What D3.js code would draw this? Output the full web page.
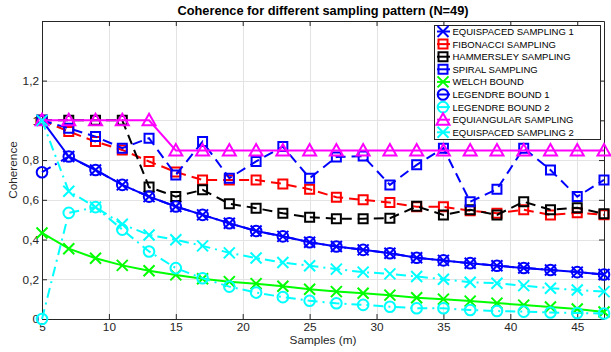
<!DOCTYPE html>
<html>
<head>
<meta charset="utf-8">
<script src="https://cdn.jsdelivr.net/npm/d3@7"></script>
<style>
  body { margin: 0; background: #fff; }
  svg { display: block; font-family: "Liberation Sans", Arial, sans-serif; }
</style>
</head>
<body>
<svg width="611" height="352"></svg>
<script>
// values
const samples = [5, 7, 9, 11, 13, 15, 17, 19, 21, 23, 25, 27, 29, 31, 33, 35, 37, 39, 41, 43, 45, 47];
const equispaced1 = [1.0, 0.818, 0.75, 0.675, 0.616, 0.566, 0.524, 0.482, 0.443, 0.416, 0.386, 0.365, 0.348, 0.331, 0.308, 0.295, 0.281, 0.268, 0.257, 0.247, 0.236, 0.224];
const fibonacci = [1.0, 0.944, 0.893, 0.851, 0.793, 0.74, 0.70, 0.70, 0.70, 0.68, 0.653, 0.613, 0.60, 0.586, 0.565, 0.565, 0.545, 0.532, 0.55, 0.524, 0.535, 0.525];
const hammersley = [1.0, 1.0, 1.0, 1.0, 0.664, 0.616, 0.65, 0.58, 0.558, 0.532, 0.512, 0.505, 0.505, 0.507, 0.567, 0.524, 0.55, 0.524, 0.59, 0.55, 0.56, 0.53];
const spiral = [1.0, 0.96, 0.918, 0.86, 0.91, 0.725, 0.893, 0.709, 0.793, 0.868, 0.709, 0.815, 0.82, 0.675, 0.776, 0.86, 0.59, 0.653, 0.86, 0.75, 0.616, 0.70];
const welch = [0.433, 0.354, 0.306, 0.27, 0.243, 0.222, 0.203, 0.188, 0.178, 0.165, 0.15, 0.138, 0.13, 0.12, 0.107, 0.10, 0.09, 0.08, 0.07, 0.06, 0.05, 0.035];
const legendre1 = [0.739, 0.818, 0.75, 0.675, 0.616, 0.566, 0.524, 0.482, 0.443, 0.416, 0.386, 0.365, 0.348, 0.331, 0.308, 0.295, 0.281, 0.268, 0.257, 0.247, 0.236, 0.224];
const legendre2 = [0.0, 0.534, 0.563, 0.45, 0.34, 0.256, 0.205, 0.163, 0.133, 0.11, 0.092, 0.079, 0.071, 0.062, 0.054, 0.054, 0.045, 0.04, 0.037, 0.033, 0.03, 0.028];
const equiangular = [1.0, 1.0, 1.0, 1.0, 1.0, 0.848, 0.848, 0.848, 0.848, 0.848, 0.848, 0.848, 0.848, 0.848, 0.848, 0.848, 0.848, 0.848, 0.848, 0.848, 0.848, 0.848];
const equispaced2 = [1.0, 0.643, 0.563, 0.477, 0.423, 0.399, 0.368, 0.333, 0.307, 0.284, 0.268, 0.251, 0.236, 0.227, 0.214, 0.2, 0.185, 0.18, 0.168, 0.155, 0.146, 0.138];

const xTicks = [5, 10, 15, 20, 25, 30, 35, 40, 45];
const yTicks = [0, 0.2, 0.4, 0.6, 0.8, 1.0, 1.2];

const series = [
  { name: 'EQUISPACED SAMPLING 1', values: equispaced1, color: '#0000ff', dash: null, marker: 'x' },
  { name: 'FIBONACCI SAMPLING', values: fibonacci, color: '#ff0000', dash: '10,6', marker: 'square' },
  { name: 'HAMMERSLEY SAMPLING', values: hammersley, color: '#000000', dash: '10,6', marker: 'square' },
  { name: 'SPIRAL SAMPLING', values: spiral, color: '#0000ff', dash: '10,6', marker: 'square' },
  { name: 'WELCH BOUND', values: welch, color: '#00ff00', dash: null, marker: 'x' },
  { name: 'LEGENDRE BOUND 1', values: legendre1, color: '#0000ff', dash: '10,5,2,5', marker: 'circle' },
  { name: 'LEGENDRE BOUND 2', values: legendre2, color: '#00ffff', dash: '10,5,2,5', marker: 'circle' },
  { name: 'EQUIANGULAR SAMPLING', values: equiangular, color: '#ff00ff', dash: null, marker: 'triangle' },
  { name: 'EQUISPACED SAMPLING 2', values: equispaced2, color: '#00ffff', dash: '10,5,2,5', marker: 'x' }
];

const svg = d3.select('svg');
const plotLeft = 42, plotRight = 604, plotTop = 21, plotBottom = 319;
const axisColor = '#262626';

const x = d3.scaleLinear().domain([5, 47]).range([plotLeft, plotRight]);
const y = d3.scaleLinear().domain([0, 1.5]).range([plotBottom, plotTop]);

// grid
const grid = svg.append('g').attr('stroke', '#e3e3e3').attr('stroke-width', 1);
grid.selectAll('line.gx').data(xTicks).enter().append('line')
  .attr('x1', d => Math.round(x(d)) + 0.5).attr('x2', d => Math.round(x(d)) + 0.5)
  .attr('y1', plotTop).attr('y2', plotBottom);
grid.selectAll('line.gy').data(yTicks).enter().append('line')
  .attr('y1', d => Math.round(y(d)) + 0.5).attr('y2', d => Math.round(y(d)) + 0.5)
  .attr('x1', plotLeft).attr('x2', plotRight);

// axes
const fmt = d => String(+d.toFixed(1)).replace('.', ',');
function styleAxis(g) {
  g.select('.domain').attr('stroke', axisColor);
  g.selectAll('.tick line').attr('stroke', axisColor);
  g.selectAll('.tick text').attr('fill', axisColor).attr('font-size', 11.8)
    .attr('font-family', '"Liberation Sans", Arial, sans-serif');
}
svg.append('g').attr('transform', `translate(0,${plotBottom})`)
  .call(d3.axisBottom(x).tickValues(xTicks).tickSize(-5).tickSizeOuter(0).tickPadding(4))
  .call(styleAxis);
svg.append('g').attr('transform', `translate(0,${plotTop})`)
  .call(d3.axisTop(x).tickValues(xTicks).tickSize(-5).tickSizeOuter(0).tickFormat(''))
  .call(styleAxis);
svg.append('g').attr('transform', `translate(${plotLeft},0)`)
  .call(d3.axisLeft(y).tickValues(yTicks).tickSize(-5).tickSizeOuter(0).tickPadding(3).tickFormat(fmt))
  .call(styleAxis);
svg.append('g').attr('transform', `translate(${plotRight},0)`)
  .call(d3.axisRight(y).tickValues(yTicks).tickSize(-5).tickSizeOuter(0).tickFormat(''))
  .call(styleAxis);

// marker shapes
function markerPath(type) {
  if (type === 'x') { const s = 5.5; return `M${-s},${-s}L${s},${s}M${-s},${s}L${s},${-s}`; }
  if (type === 'square') { const s = 4.5; return `M${-s},${-s}H${s}V${s}H${-s}Z`; }
  if (type === 'circle') { const r = 5.3; return `M${r},0A${r},${r} 0 1,1 ${-r},0A${r},${r} 0 1,1 ${r},0Z`; }
  if (type === 'triangle') { return 'M0,-6.5L6.5,5L-6.5,5Z'; }
}

const line = d3.line().x(d => x(d[0])).y(d => y(d[1]));

series.forEach(s => {
  const pts = samples.map((m, i) => [m, s.values[i]]);
  const g = svg.append('g');
  g.append('path').datum(pts)
    .attr('d', line).attr('fill', 'none')
    .attr('stroke', s.color).attr('stroke-width', 2)
    .attr('stroke-dasharray', s.dash);
  g.selectAll('path.mk').data(pts).enter().append('path')
    .attr('class', 'mk')
    .attr('transform', d => `translate(${x(d[0])},${y(d[1])})`)
    .attr('d', markerPath(s.marker))
    .attr('fill', 'none').attr('stroke', s.color).attr('stroke-width', 2);
});

// title and labels
svg.append('text').attr('x', (plotLeft + plotRight) / 2).attr('y', 15)
  .attr('text-anchor', 'middle').attr('font-size', 12.8).attr('font-weight', 'bold')
  .attr('fill', '#000').text('Coherence for different sampling pattern (N=49)');
svg.append('text').attr('x', (plotLeft + plotRight) / 2).attr('y', 344)
  .attr('text-anchor', 'middle').attr('font-size', 11.8).attr('fill', axisColor)
  .text('Samples (m)');
svg.append('text').attr('transform', `translate(17,${(plotTop + plotBottom) / 2}) rotate(-90)`)
  .attr('text-anchor', 'middle').attr('font-size', 11.8).attr('fill', axisColor)
  .text('Coherence');

// legend
const lg = svg.append('g');
const lgX = 434, lgY = 25, lgW = 166, lgH = 114, rowH = 12.6;
lg.append('rect').attr('x', lgX + 0.5).attr('y', lgY + 0.5).attr('width', lgW).attr('height', lgH)
  .attr('fill', '#fff').attr('stroke', axisColor).attr('stroke-width', 1);
series.forEach((s, i) => {
  const cy = lgY + 6.5 + i * rowH;
  lg.append('line').attr('x1', 437).attr('x2', 450).attr('y1', cy).attr('y2', cy)
    .attr('stroke', s.color).attr('stroke-width', 2);
  lg.append('path').attr('transform', `translate(443,${cy})`).attr('d', markerPath(s.marker))
    .attr('fill', 'none').attr('stroke', s.color).attr('stroke-width', 2);
  lg.append('text').attr('x', 452.5).attr('y', cy + 3.4).attr('font-size', 9.5)
    .attr('fill', '#000').text(s.name);
});
</script>
</body>
</html>
